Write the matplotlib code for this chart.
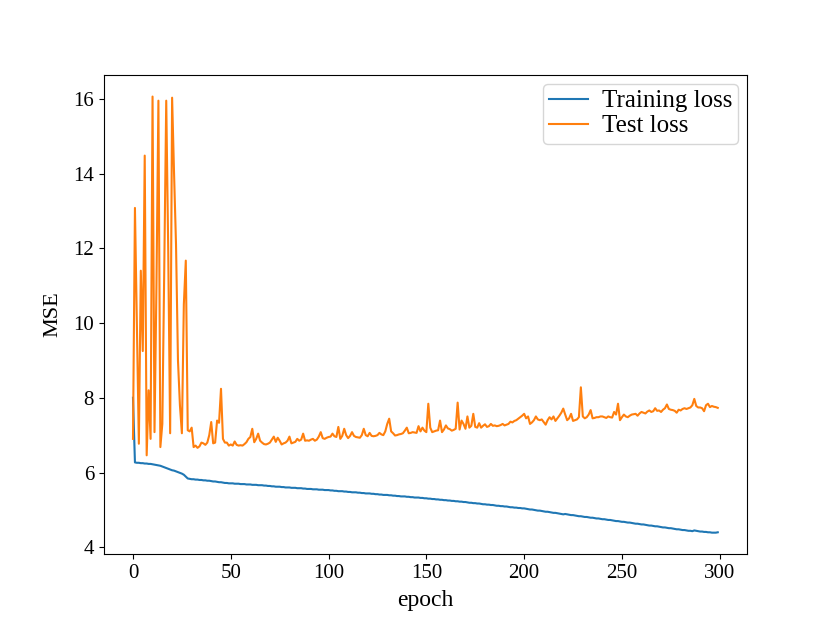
import matplotlib
matplotlib.use("Agg")
import matplotlib.pyplot as plt

plt.rcParams['font.family'] = ['Liberation Serif', 'DejaVu Serif']
plt.rcParams['font.size'] = 15

# per-epoch MSE
train_loss = [
    8.00, 6.27, 6.26, 6.26, 6.25, 6.25, 6.24, 6.24, 6.23, 6.23,
    6.22, 6.21, 6.20, 6.19, 6.18, 6.16, 6.14, 6.12, 6.10, 6.08,
    6.06, 6.05, 6.03, 6.01, 5.99, 5.97, 5.94, 5.89, 5.84, 5.83,
    5.82, 5.82, 5.81, 5.81, 5.80, 5.80, 5.79, 5.79, 5.78, 5.78,
    5.77, 5.76, 5.76, 5.75, 5.74, 5.74, 5.73, 5.72, 5.72, 5.71,
    5.71, 5.71, 5.70, 5.70, 5.70, 5.69, 5.69, 5.69, 5.68, 5.68,
    5.68, 5.67, 5.67, 5.67, 5.66, 5.66, 5.66, 5.65, 5.65, 5.64,
    5.64, 5.63, 5.63, 5.62, 5.62, 5.62, 5.61, 5.61, 5.60, 5.60,
    5.60, 5.59, 5.59, 5.59, 5.58, 5.58, 5.58, 5.57, 5.57, 5.56,
    5.56, 5.56, 5.55, 5.55, 5.55, 5.54, 5.54, 5.54, 5.53, 5.53,
    5.53, 5.52, 5.52, 5.51, 5.51, 5.50, 5.50, 5.50, 5.49, 5.49,
    5.48, 5.48, 5.47, 5.47, 5.47, 5.46, 5.46, 5.45, 5.45, 5.44,
    5.44, 5.44, 5.43, 5.43, 5.42, 5.42, 5.41, 5.41, 5.40, 5.40,
    5.40, 5.39, 5.39, 5.38, 5.38, 5.37, 5.37, 5.36, 5.36, 5.36,
    5.35, 5.35, 5.34, 5.34, 5.33, 5.33, 5.33, 5.32, 5.32, 5.31,
    5.31, 5.30, 5.30, 5.29, 5.29, 5.28, 5.28, 5.27, 5.27, 5.26,
    5.26, 5.25, 5.25, 5.24, 5.24, 5.23, 5.23, 5.22, 5.22, 5.21,
    5.21, 5.20, 5.19, 5.19, 5.18, 5.18, 5.17, 5.17, 5.16, 5.15,
    5.15, 5.14, 5.14, 5.13, 5.13, 5.12, 5.11, 5.11, 5.10, 5.10,
    5.09, 5.09, 5.08, 5.07, 5.07, 5.06, 5.06, 5.05, 5.05, 5.04,
    5.04, 5.03, 5.02, 5.01, 5.01, 5.00, 4.99, 4.98, 4.98, 4.97,
    4.96, 4.95, 4.95, 4.94, 4.93, 4.92, 4.92, 4.91, 4.90, 4.89,
    4.88, 4.89, 4.88, 4.87, 4.86, 4.86, 4.85, 4.84, 4.83, 4.83,
    4.82, 4.81, 4.81, 4.80, 4.79, 4.79, 4.78, 4.77, 4.77, 4.76,
    4.75, 4.75, 4.74, 4.73, 4.73, 4.72, 4.71, 4.70, 4.70, 4.69,
    4.68, 4.68, 4.67, 4.66, 4.66, 4.65, 4.64, 4.63, 4.63, 4.62,
    4.61, 4.61, 4.60, 4.59, 4.58, 4.58, 4.57, 4.56, 4.56, 4.55,
    4.54, 4.53, 4.53, 4.52, 4.51, 4.51, 4.50, 4.49, 4.48, 4.48,
    4.47, 4.46, 4.46, 4.45, 4.44, 4.44, 4.43, 4.45, 4.44, 4.43,
    4.42, 4.42, 4.41, 4.41, 4.40, 4.40, 4.39, 4.39, 4.39, 4.40,
]

test_loss = [
    6.90, 13.08, 9.90, 6.77, 11.40, 9.25, 14.48, 6.46, 8.20, 6.90,
    16.06, 7.08, 11.00, 15.95, 6.68, 7.30, 11.50, 15.95, 12.00, 7.05,
    16.03, 14.00, 12.10, 9.00, 7.80, 7.05, 10.50, 11.67, 7.13, 7.10,
    7.20, 6.68, 6.72, 6.66, 6.70, 6.80, 6.78, 6.74, 6.80, 7.00,
    7.35, 6.78, 6.80, 7.39, 7.33, 8.24, 6.90, 6.80, 6.80, 6.72,
    6.75, 6.72, 6.83, 6.74, 6.72, 6.73, 6.72, 6.76, 6.81, 6.90,
    6.95, 7.17, 6.81, 6.90, 7.04, 6.85, 6.80, 6.76, 6.75, 6.77,
    6.80, 6.88, 6.96, 6.82, 6.93, 6.85, 6.75, 6.78, 6.80, 6.85,
    6.96, 6.78, 6.80, 6.82, 6.90, 6.85, 6.88, 7.04, 6.85, 6.86,
    6.85, 6.88, 6.90, 6.85, 6.88, 6.96, 7.08, 6.92, 6.90, 6.93,
    6.95, 6.96, 7.04, 6.97, 6.95, 7.22, 6.90, 6.98, 7.17, 7.00,
    6.92, 6.98, 7.08, 6.98, 6.95, 6.94, 6.93, 7.00, 7.17, 7.00,
    6.97, 7.06, 6.98, 6.97, 6.98, 7.00, 7.06, 7.02, 7.00, 7.10,
    7.30, 7.44, 7.10, 7.05, 6.99, 7.00, 7.02, 7.03, 7.05, 7.12,
    7.20, 7.05, 7.06, 7.08, 7.07, 7.06, 7.24, 7.10, 7.20, 7.12,
    7.08, 7.84, 7.20, 7.08, 7.10, 7.12, 7.13, 7.39, 7.08, 7.15,
    7.26, 7.18, 7.16, 7.12, 7.14, 7.17, 7.87, 7.15, 7.39, 7.30,
    7.17, 7.50, 7.20, 7.25, 7.57, 7.22, 7.20, 7.32, 7.20, 7.25,
    7.29, 7.22, 7.24, 7.30, 7.25, 7.26, 7.24, 7.25, 7.27, 7.30,
    7.26, 7.28, 7.30, 7.36, 7.34, 7.38, 7.40, 7.44, 7.48, 7.52,
    7.57, 7.45, 7.50, 7.30, 7.34, 7.40, 7.50, 7.42, 7.40, 7.42,
    7.35, 7.28, 7.40, 7.48, 7.42, 7.50, 7.38, 7.45, 7.52, 7.60,
    7.71, 7.55, 7.40, 7.45, 7.57, 7.38, 7.40, 7.42, 7.48, 8.28,
    7.50, 7.45, 7.48, 7.55, 7.67, 7.45, 7.46, 7.48, 7.48, 7.50,
    7.50, 7.48, 7.46, 7.50, 7.48, 7.47, 7.62, 7.55, 7.84, 7.40,
    7.48, 7.55, 7.50, 7.48, 7.52, 7.55, 7.56, 7.57, 7.52, 7.58,
    7.62, 7.60, 7.58, 7.63, 7.66, 7.62, 7.64, 7.72, 7.65, 7.66,
    7.62, 7.68, 7.72, 7.82, 7.70, 7.68, 7.67, 7.65, 7.60, 7.68,
    7.66, 7.70, 7.72, 7.70, 7.72, 7.74, 7.80, 7.97, 7.78, 7.74,
    7.74, 7.72, 7.64, 7.80, 7.84, 7.75, 7.78, 7.76, 7.75, 7.73,
]

epochs = list(range(len(train_loss)))

fig, ax = plt.subplots(figsize=(8.3, 6.23), dpi=100)
ax.plot(epochs, train_loss, label='Training loss')
ax.plot(epochs, test_loss, label='Test loss')
ax.set_xlabel('epoch', fontsize=17, labelpad=5)
ax.set_ylabel('MSE', fontsize=16, labelpad=8)
ax.legend(loc='upper right', fontsize=18, labelspacing=0.1,
          borderpad=0.25, handlelength=1.55, handletextpad=0.55,
          borderaxespad=0.35)
fig.savefig('out.png', dpi=100)
